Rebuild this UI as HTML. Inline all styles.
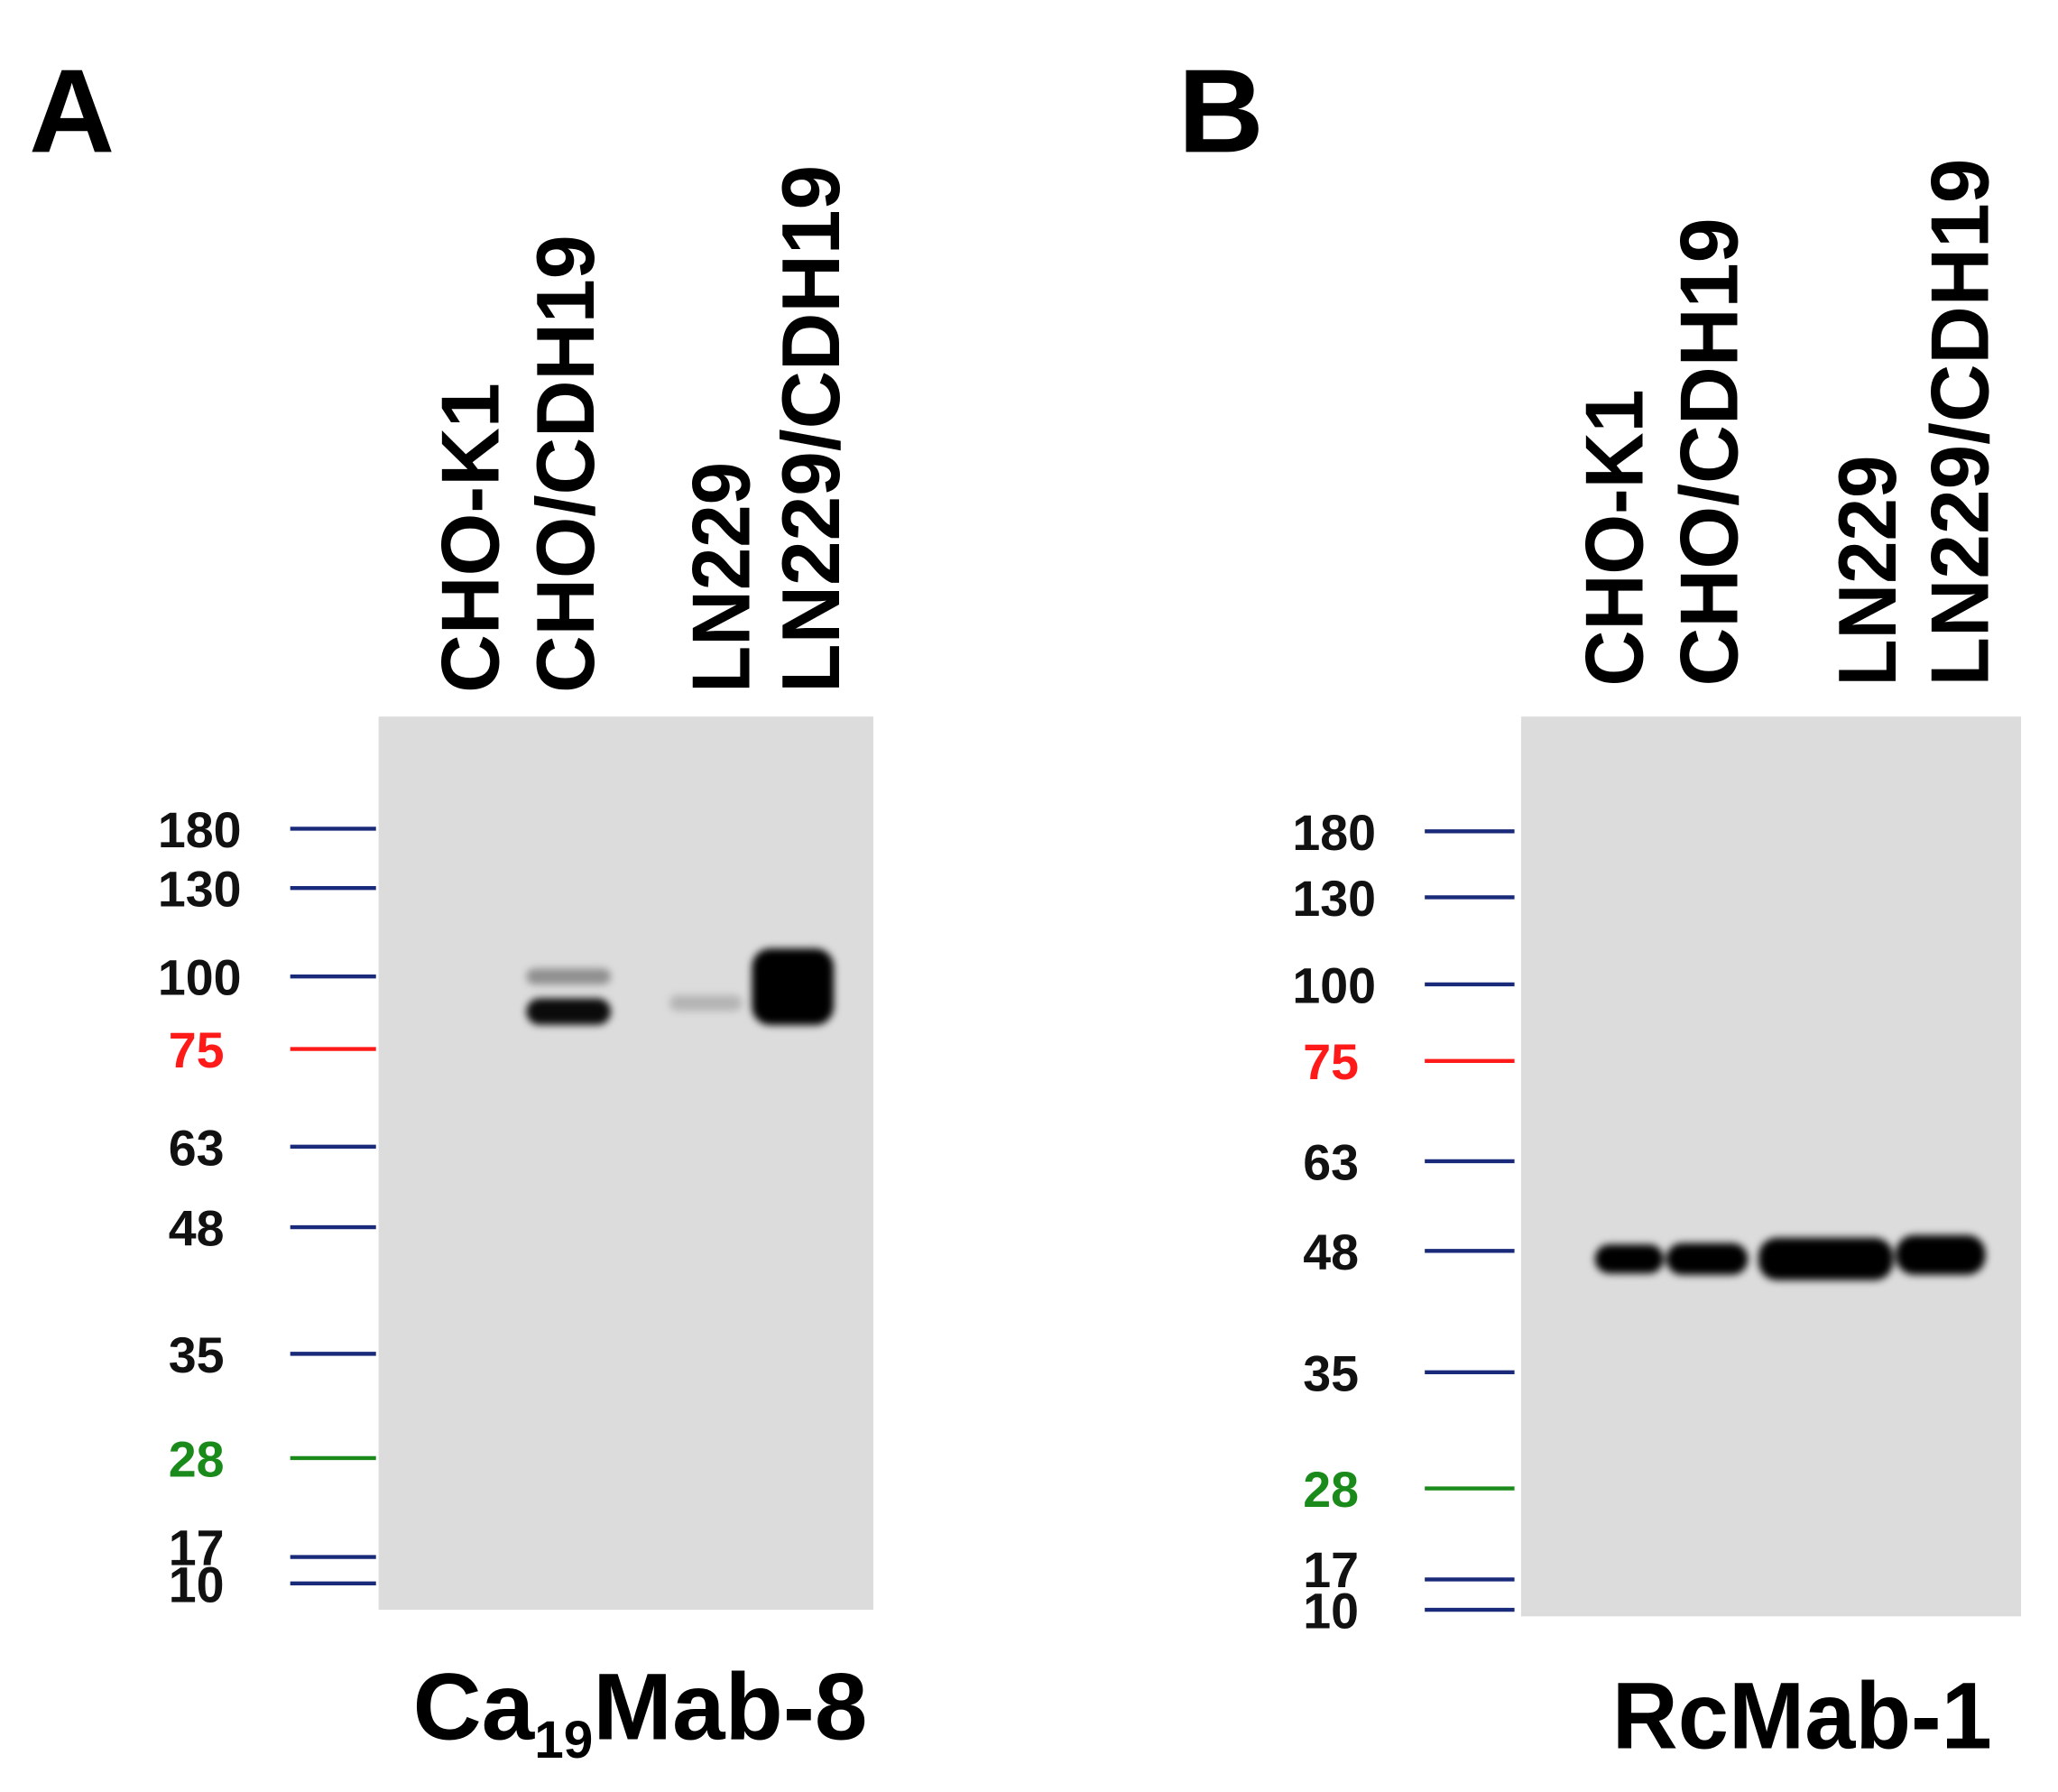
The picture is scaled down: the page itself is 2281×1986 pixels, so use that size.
<!DOCTYPE html>
<html><head><meta charset="utf-8"><style>
html,body{margin:0;padding:0;background:#fff;}
svg{display:block;}
text{font-family:"Liberation Sans",Arial,sans-serif;font-weight:bold;}
</style></head><body>
<svg id="fig" width="2281" height="1986" viewBox="0 0 1560 1358" xmlns="http://www.w3.org/2000/svg">
<defs>
<filter id="blur" x="-50%" y="-50%" width="200%" height="200%"><feGaussianBlur stdDeviation="3"/></filter>
</defs>
<g id="root"></g>
</svg>
<script>
// ---- data ----
const laneNames = ["CHO-K1", "CHO/CDH19", "LN229", "LN229/CDH19"];
const markerKDa = [180, 130, 100, 75, 63, 48, 35, 28, 17, 10];
const markerLabels = ["180", "130", "100", "75", "63", "48", "35", "28", "17", "10"];
const markerColors = ["#1a2a7a","#1a2a7a","#1a2a7a","#ff1a1a","#1a2a7a","#1a2a7a","#1a2a7a","#1a8a1a","#1a2a7a","#1a2a7a"];
// Panel A (Ca19Mab-8) bands: lane index, apparent kDa, opacity, thickness
const bandsALane = [1, 1, 2, 3];
const bandsAKDa = [87, 100, 90, 96];
const bandsAOpacity = [0.95, 0.35, 0.18, 1.0];
const bandsAThick = [20, 12, 12, 58];
// Panel B (RcMab-1) bands
const bandsBLane = [0, 1, 2, 3];
const bandsBKDa = [47, 47, 47, 47.5];
const bandsBOpacity = [1, 1, 1, 1];
const bandsBThick = [22, 24, 32, 30];

// ---- layout ----
const panels = [
  {id:"a", letter:"A", lx:22, title:"Ca", sub:"19", rest:"Mab-8", tx:313, ty:1318, tlen:347,
   gel:[287,543,375,677], ladderX:[220,285], labelRight:183,
   markerY:[628,673,740,795,869,930,1026,1105,1180,1200],
   laneX:[378,450,568,636], laneLen:[235,347,175,400], laneBottom:525,
   bandX:[355,431,535,601], bandW:[60,64,55,62],
   lanes:bandsALane, kda:bandsAKDa, op:bandsAOpacity, th:bandsAThick},
  {id:"b", letter:"B", lx:893, title:"RcMab-1", tx:1222, ty:1325, tlen:288,
   gel:[1153,543,379,682], ladderX:[1080,1148], labelRight:1043,
   markerY:[630,680,746,804,880,948,1040,1128,1197,1220],
   laneX:[1245,1317,1437,1507], laneLen:[225,355,175,400], laneBottom:520,
   bandX:[1235,1294,1384,1471], bandW:[52,62,102,68],
   lanes:bandsBLane, kda:bandsBKDa, op:bandsBOpacity, th:bandsBThick}
];
const NS="http://www.w3.org/2000/svg";
const root=document.getElementById('root');
function mk(tag,attrs,parent){const e=document.createElementNS(NS,tag);for(const k in attrs)e.setAttribute(k,attrs[k]);(parent||root).appendChild(e);return e;}
// y axis: log interpolation between marker positions
function yScale(p,kda){
  const lk=Math.log10(kda);
  for(let i=0;i<markerKDa.length-1;i++){
    const a=Math.log10(markerKDa[i]),b=Math.log10(markerKDa[i+1]);
    if(lk<=a&&lk>=b){return p.markerY[i]+(a-lk)/(a-b)*(p.markerY[i+1]-p.markerY[i]);}
  }
  return lk>Math.log10(markerKDa[0])?p.markerY[0]:p.markerY[markerKDa.length-1];
}
panels.forEach(p=>{
  const g=mk('g',{});
  
  
  const L=mk('text',{x:p.lx,y:115,'font-size':90,fill:'#000'},g);
  
  
  L.textContent=p.letter;
  // gel
  const gel=mk('rect',{x:p.gel[0],y:p.gel[1],width:p.gel[2],height:p.gel[3],fill:'#dcdcdc'},g);
  
  
  // markers
  markerKDa.forEach((k,i)=>{
    const y=p.markerY[i];
    const ln=mk('line',{x1:p.ladderX[0],x2:p.ladderX[1],y1:y,y2:y,stroke:markerColors[i],'stroke-width':3},g);
    
    
    let ty=y+14;
    if(markerLabels[i]==="17") ty=y+6;
    if(markerLabels[i]==="10") ty=y+14;
    const col=markerColors[i]==="#1a2a7a"?"#111":markerColors[i];
    const three=markerLabels[i].length===3;
    const t=mk('text',{x:three?p.labelRight:p.labelRight-13,y:ty,'font-size':38,fill:col,'text-anchor':'end'},g);
    
    
    t.textContent=markerLabels[i];
  });
  // lane labels
  laneNames.forEach((n,i)=>{
    const x=p.laneX[i], y=p.laneBottom;
    const t=mk('text',{x:0,y:0,'font-size':62,fill:'#000',transform:`translate(${x},${y}) rotate(-90)`,textLength:p.laneLen[i],lengthAdjust:'spacingAndGlyphs'},g);
    
    
    t.textContent=n;
  });
  // bands
  const bg=mk('g',{filter:'url(#blur)'},g);
  p.lanes.forEach((lane,i)=>{
    const cy=yScale(p,p.kda[i]);
    const w=p.bandW[lane], h=p.th[i];
    const r=mk('rect',{x:p.bandX[lane]-w/2,y:cy-h/2,width:w,height:h,rx:Math.min(h/2,14),fill:'#000','fill-opacity':p.op[i]},bg);
    
    
  });
  // title
  const tt=mk('text',{x:p.tx,y:p.ty,'font-size':72,fill:'#000'},g);
  
  
  if(p.sub){
    const a=mk('tspan',{},tt);a.textContent=p.title;
    const s=mk('tspan',{'font-size':40,dy:14},tt);s.textContent=p.sub;
    const r=mk('tspan',{dy:-14},tt);r.textContent=p.rest;
  } else {
    tt.setAttribute('textLength',p.tlen);
    tt.setAttribute('lengthAdjust','spacingAndGlyphs');
    tt.textContent=p.title;
  }
});
</script>
</body></html>
